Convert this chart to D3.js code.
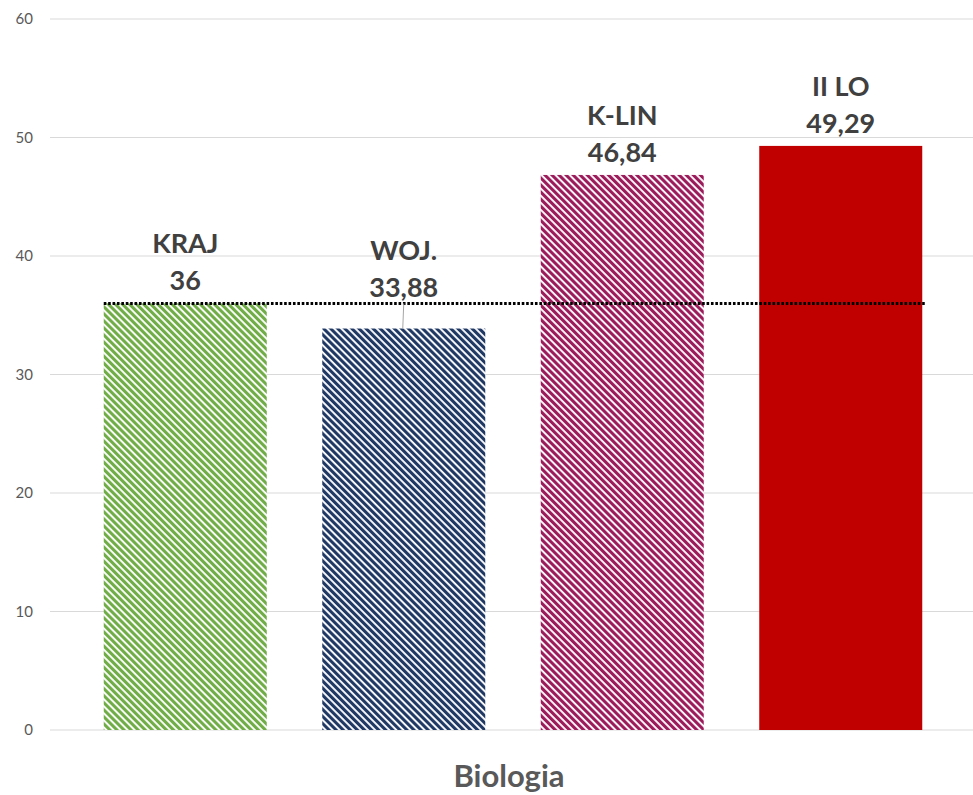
<!DOCTYPE html>
<html><head><meta charset="utf-8">
<script src="https://cdn.jsdelivr.net/npm/d3@7"></script>
<style>body{margin:0;background:#fff}svg{display:block}</style>
</head><body>
<svg id="c" width="973" height="795"></svg>
<script>
const categories = ["KRAJ", "WOJ.", "K-LIN", "II LO"];
const values = [36, 33.88, 46.84, 49.29];
const valueLabels = ["36", "33,88", "46,84", "49,29"];
const colors = ["#70AD47", "#1F3864", "#9C1C5B", "#C00000"];
const hatched = [true, true, true, false];
const yTicks = [0, 10, 20, 30, 40, 50, 60];
const referenceValue = 36;
const title = "Biologia";

const svg = d3.select("#c");
const W = 973;
const y = d3.scaleLinear().domain([0, 60]).range([730, 19]);
const x = d3.scaleBand().domain(categories).range([76, 950]).paddingInner(0.254).paddingOuter(0.127);

const defs = svg.append("defs");
categories.forEach((c, i) => {
  const p = defs.append("pattern").attr("id", "h" + i)
    .attr("patternUnits", "userSpaceOnUse").attr("width", 5).attr("height", 10)
    .attr("patternTransform", "rotate(-45)");
  p.append("rect").attr("width", 5).attr("height", 10).attr("fill", "#fff");
  p.append("rect").attr("width", 3.1).attr("height", 10).attr("fill", colors[i]);
});

// gridlines
svg.append("g").selectAll("line").data(yTicks).join("line")
  .attr("x1", 50).attr("x2", W).attr("y1", d => y(d)).attr("y2", d => y(d))
  .attr("stroke", "#d9d9d9").attr("stroke-width", 1);

// y axis labels
svg.append("g").selectAll("text").data(yTicks).join("text")
  .attr("x", 33).attr("y", d => y(d)).attr("dy", "0.35em")
  .attr("text-anchor", "end").attr("font-family", "Lato, sans-serif")
  .attr("font-size", 15).attr("fill", "#595959").text(d => d);

// bars
svg.append("g").selectAll("rect").data(values).join("rect")
  .attr("x", (d, i) => x(categories[i])).attr("width", x.bandwidth())
  .attr("y", d => y(d)).attr("height", d => y(0) - y(d))
  .attr("fill", (d, i) => hatched[i] ? `url(#h${i})` : colors[i]);

// reference dotted line
svg.append("line")
  .attr("x1", x(categories[0])).attr("x2", x(categories[3]) + x.bandwidth() + 4)
  .attr("y1", y(referenceValue)).attr("y2", y(referenceValue))
  .attr("stroke", "#000").attr("stroke-width", 3).attr("stroke-dasharray", "2.6,1.8");

// labels
const lab = svg.append("g").attr("font-family", "Lato, sans-serif").attr("font-weight", "bold")
  .attr("font-size", 27).attr("fill", "#404040").attr("text-anchor", "middle");
values.forEach((v, i) => {
  const cx = x(categories[i]) + x.bandwidth() / 2;
  let base = y(v) - 13;
  if (i === 1) base = y(referenceValue) - 6;
  lab.append("text").attr("x", cx).attr("y", base).text(valueLabels[i]);
  lab.append("text").attr("x", cx).attr("y", base - 37).text(categories[i]);
  if (i === 1) {
    svg.append("line").attr("x1", cx).attr("x2", cx - 1)
      .attr("y1", base + 6).attr("y2", y(v))
      .attr("stroke", "#a6a6a6").attr("stroke-width", 1);
  }
});

svg.append("text").attr("x", 509).attr("y", 787).attr("text-anchor", "middle")
  .attr("font-family", "Lato, sans-serif").attr("font-weight", "bold")
  .attr("font-size", 31).attr("fill", "#595959").text(title);
</script>
</body></html>
